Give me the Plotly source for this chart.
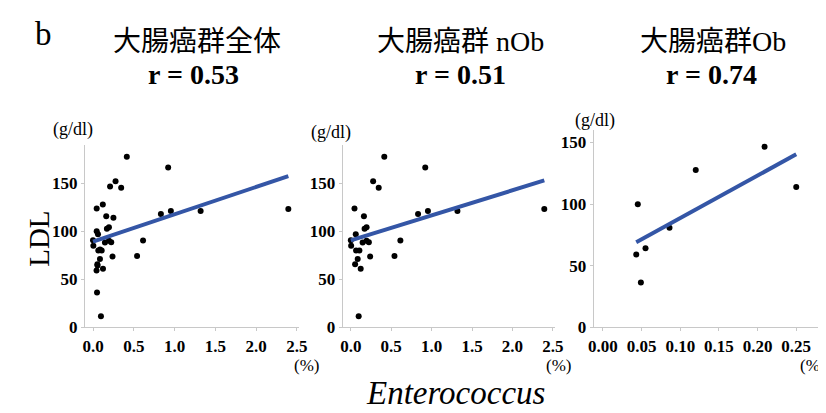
import numpy as np
import plotly.graph_objects as go

# ---- data ----
nob_x = [0.414, 0.921, 0.276, 0.345, 0.045, 0.162, 0.832, 0.954, 1.319, 2.394,
         0.170, 0.195, 0.061, 0.0, 0.004, 0.146, 0.195, 0.223, 0.065, 0.106,
         0.085, 0.053, 0.122, 0.239, 0.540, 0.613, 0.097]
nob_y = [177.4, 166.2, 152.0, 145.0, 123.6, 115.5, 117.9, 121.0, 121.0, 123.0,
         102.4, 104.0, 96.6, 90.5, 84.8, 88.2, 89.9, 88.5, 79.7, 79.7,
         71.0, 65.5, 60.8, 73.6, 74.0, 90.2, 11.5]
ob_x = [0.209, 0.120, 0.250, 0.045, 0.086, 0.055, 0.043, 0.049]
ob_y = [146.5, 127.7, 113.9, 99.9, 80.8, 64.1, 59.0, 36.2]
all_x = nob_x + ob_x
all_y = nob_y + ob_y

titles = ["大腸癌群全体", "大腸癌群 nOb", "大腸癌群Ob"]
r_labels = ["r = 0.53", "r = 0.51", "r = 0.74"]
x_ticks_main = [0.0, 0.5, 1.0, 1.5, 2.0, 2.5]
x_ticks_ob = [0.00, 0.05, 0.10, 0.15, 0.20, 0.25]
y_ticks = [0, 50, 100, 150]

SERIF = "Liberation Serif, Noto Sans CJK JP, serif"
LINE_COL = "#3456a6"
AX_COL = "#c8c8c8"

panels = [
    dict(x=all_x, y=all_y, xd=[0.0884, 0.3523], yd=[0.208, 0.661],
         xr=[-0.1, 2.53], yr=[0, 190], xt=x_ticks_main, fmt=".1f"),
    dict(x=nob_x, y=nob_y, xd=[0.4056, 0.667], yd=[0.208, 0.661],
         xr=[-0.1, 2.53], yr=[0, 190], xt=x_ticks_main, fmt=".1f"),
    dict(x=ob_x, y=ob_y, xd=[0.7143, 0.990], yd=[0.208, 0.697],
         xr=[-0.012, 0.278], yr=[0, 160], xt=x_ticks_ob, fmt=".2f"),
]

fig = go.Figure()
layout = dict(
    width=826, height=413, margin=dict(l=0, r=0, t=0, b=0),
    paper_bgcolor="white", plot_bgcolor="white", showlegend=False,
    font=dict(family=SERIF, color="black"),
)

for i, p in enumerate(panels):
    n = "" if i == 0 else str(i + 1)
    xa, ya = "x" + n, "y" + n
    xs = np.array(p["x"])
    ys = np.array(p["y"])
    fig.add_trace(go.Scatter(x=xs, y=ys, mode="markers", xaxis=xa, yaxis=ya,
                             marker=dict(color="black", size=6)))
    m, b = np.polyfit(xs, ys, 1)
    lx = np.array([xs.min(), xs.max()])
    fig.add_trace(go.Scatter(x=lx, y=m * lx + b, mode="lines", xaxis=xa, yaxis=ya,
                             line=dict(color=LINE_COL, width=4)))
    tf = dict(family="Liberation Serif", size=17, color="black", weight="bold")
    layout["xaxis" + n] = dict(
        domain=p["xd"], range=p["xr"], anchor=ya, showgrid=False, zeroline=False,
        showline=True, linecolor=AX_COL, linewidth=1, ticks="outside", ticklen=3,
        tickcolor=AX_COL, tickvals=p["xt"], tickformat=p["fmt"], tickfont=tf)
    layout["yaxis" + n] = dict(
        domain=p["yd"], range=p["yr"], anchor=xa, showgrid=False, zeroline=False,
        showline=True, linecolor=AX_COL, linewidth=1, ticks="outside", ticklen=3,
        tickcolor=AX_COL, tickvals=y_ticks, tickfont=tf)

fig.update_layout(**layout)

ann = []
def txt(x, y, s, size, bold=False, italic=False, angle=0):
    f = dict(family=SERIF, size=size, color="black")
    if bold:
        f["weight"] = "bold"
    if italic:
        f["style"] = "italic"
    ann.append(dict(x=x / 826, y=1 - y / 413, xref="paper", yref="paper", text=s,
                    showarrow=False, font=f, textangle=angle,
                    xanchor="center", yanchor="middle"))

txt(31, 27, "b", 33)
title_cx = [187, 455, 711]
r_cx = [183, 455, 710]
for i in range(3):
    txt(title_cx[i], 34, titles[i], 28)
    txt(r_cx[i], 68, r_labels[i], 28, bold=True)
txt(61, 125, "(g/dl)", 18)
txt(323, 128, "(g/dl)", 18)
txt(591, 115, "(g/dl)", 18)
txt(298, 366, "(%)", 17)
txt(554, 366, "(%)", 17)
txt(812, 366, "(%)", 17)
txt(27, 237, "LDL", 29, angle=-90)
txt(450, 395, "Enterococcus", 33, italic=True)
fig.update_layout(annotations=ann)

fig.write_html("out.html")
